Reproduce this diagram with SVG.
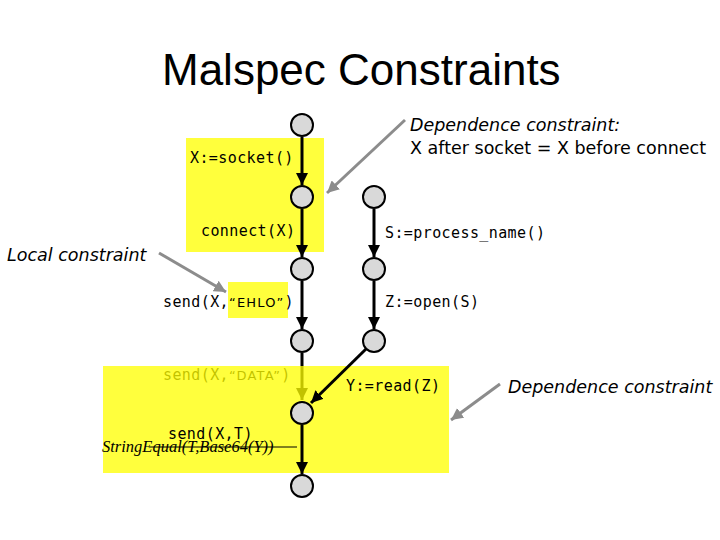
<svg xmlns="http://www.w3.org/2000/svg" width="720" height="540" viewBox="0 0 720 540">
<style>
.title{font-family:"Liberation Sans",Arial,sans-serif;font-size:44px;fill:#000}
.code{font-family:"DejaVu Sans Mono",monospace;font-size:15px;letter-spacing:0.4px;fill:#000}
.q{font-family:"DejaVu Sans",sans-serif;font-size:13px;letter-spacing:1.2px}
.note{font-family:"DejaVu Sans",sans-serif;font-size:17.5px;fill:#000}
.it{font-style:italic}
.serif{font-family:"Liberation Serif","Times New Roman",serif;font-style:italic;font-size:16.5px;fill:#000}
.hl{fill:#ffff3c}
.node circle{fill:#d9d9d9;stroke:#000;stroke-width:2}
.edge{stroke:#000;stroke-width:3;fill:none;marker-end:url(#ah)}
.ptr{stroke:#8c8c8c;stroke-width:3;fill:none;marker-end:url(#gh)}
</style>
<defs>
<marker id="ah" viewBox="0 0 10 10" refX="10" refY="5" markerWidth="4" markerHeight="4" orient="auto" markerUnits="strokeWidth">
<path d="M0,0 L10,5 L0,10 z" fill="#000"/>
</marker>
<marker id="gh" viewBox="0 0 10 10" refX="10" refY="5" markerWidth="4" markerHeight="4" orient="auto" markerUnits="strokeWidth">
<path d="M0,0 L10,5 L0,10 z" fill="#8c8c8c"/>
</marker>
</defs>
<rect width="720" height="540" fill="#fff"/>
<text class="title" x="162" y="85">Malspec Constraints</text>

<!-- highlights behind -->
<rect class="hl" x="186" y="138" width="138" height="114"/>
<rect class="hl" x="228" y="282" width="60" height="36"/>

<!-- faded (covered) elements -->
<g id="faded">
<line class="edge" x1="302" y1="353" x2="302" y2="400"/>
<text class="code" x="163" y="380">send(X,<tspan class="q">“DATA”</tspan>)</text>
</g>
<rect id="overlay" x="103" y="366" width="346" height="107" fill="#ffff00" fill-opacity="0.76"/>

<g id="connectors">
<line class="edge" x1="302" y1="137" x2="302" y2="185"/>
<line class="edge" x1="302" y1="209" x2="302" y2="257"/>
<line class="edge" x1="302" y1="281" x2="302" y2="329"/>
<line class="edge" x1="302" y1="425" x2="302" y2="474"/>
<line class="edge" x1="374" y1="209" x2="374" y2="257"/>
<line class="edge" x1="374" y1="281" x2="374" y2="329"/>
<line class="edge" x1="366" y1="349" x2="311" y2="403"/>
<line class="ptr" x1="405" y1="120" x2="327" y2="193"/>
<line class="ptr" x1="159" y1="253" x2="226" y2="292"/>
<line class="ptr" x1="500" y1="384" x2="451" y2="420"/>
</g>

<g id="n1" class="node"><circle cx="302" cy="125" r="11"/></g>
<g id="n2" class="node"><circle cx="302" cy="197" r="11"/></g>
<g id="n3" class="node"><circle cx="302" cy="269" r="11"/></g>
<g id="n4" class="node"><circle cx="302" cy="341" r="11"/></g>
<g id="n5" class="node"><circle cx="302" cy="413" r="11"/></g>
<g id="n6" class="node"><circle cx="302" cy="486" r="11"/></g>
<g id="m1" class="node"><circle cx="374" cy="197" r="11"/></g>
<g id="m2" class="node"><circle cx="374" cy="269" r="11"/></g>
<g id="m3" class="node"><circle cx="374" cy="341" r="11"/></g>

<g id="labels">
<text class="code" x="190" y="163">X:=socket()</text>
<text class="code" x="201" y="236">connect(X)</text>
<text class="code" x="163" y="307">send(X,<tspan class="q">“EHLO”</tspan>)</text>
<text class="code" x="168" y="439">send(X,T)</text>
<text class="serif" x="102" y="452">StringEqual(T,Base64(Y))</text>
<line x1="150" y1="447" x2="297" y2="447" stroke="#000" stroke-width="1"/>
<text class="code" x="385" y="238">S:=process_name()</text>
<text class="code" x="385" y="307">Z:=open(S)</text>
<text class="code" x="346" y="391">Y:=read(Z)</text>
<text class="note it" x="410" y="131">Dependence constraint:</text>
<text class="note" x="410" y="154">X after socket = X before connect</text>
<text class="note it" x="7" y="261">Local constraint</text>
<text class="note it" x="508" y="393">Dependence constraint</text>
</g>
</svg>
